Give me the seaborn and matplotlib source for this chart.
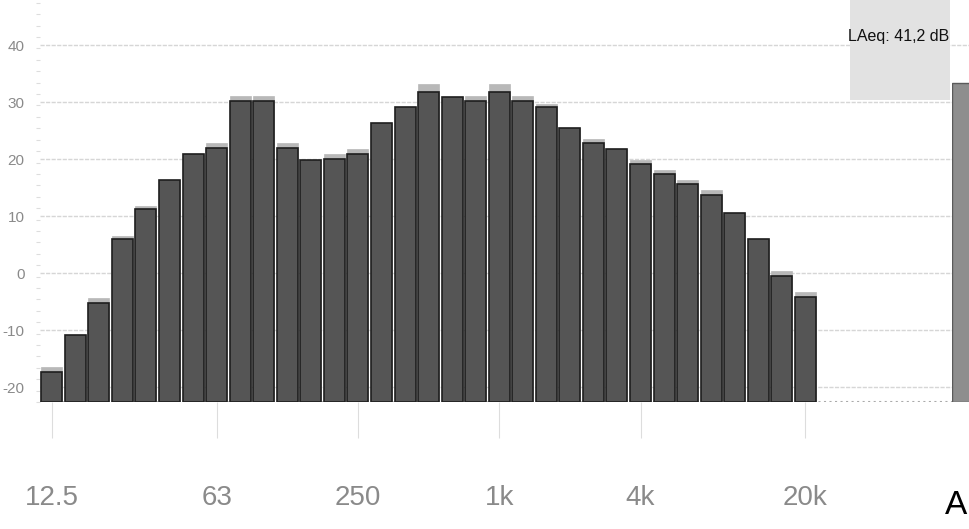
import matplotlib
matplotlib.use("Agg")
import matplotlib.pyplot as plt
from matplotlib.patches import Rectangle
from matplotlib.ticker import MultipleLocator, FixedLocator, FuncFormatter
import seaborn as sns
import pandas as pd

sns.set_theme(style="white")
plt.rcParams['font.family'] = ['Liberation Sans Narrow', 'Liberation Sans', 'DejaVu Sans']

# third-octave band levels (dB)
bands = ["12.5", "16", "20", "25", "31.5", "40", "50", "63", "80", "100",
         "125", "160", "200", "250", "315", "400", "500", "630", "800", "1k",
         "1.25k", "1.6k", "2k", "2.5k", "3.15k", "4k", "5k", "6.3k", "8k", "10k",
         "12.5k", "16k", "20k"]
level = [-17.4, -10.8, -5.2, 6.0, 11.2, 16.3, 20.9, 21.9, 30.2, 30.2,
         21.9, 19.9, 20.0, 20.9, 26.4, 29.1, 31.8, 30.9, 30.1, 31.8,
         30.1, 29.2, 25.5, 22.9, 21.8, 19.1, 17.3, 15.6, 13.7, 10.6,
         6.0, -0.5, -4.2]
peak = [-16.5, -10.8, -4.4, 6.5, 11.8, 16.3, 20.9, 22.8, 31.1, 31.1,
        22.8, 19.9, 20.9, 21.8, 26.4, 29.1, 33.2, 30.9, 31.0, 33.2,
        31.0, 29.6, 25.5, 23.6, 21.8, 19.9, 18.1, 16.4, 14.6, 10.6,
        6.0, 0.4, -3.3]
tick_bands = ["12.5", "63", "250", "1k", "4k", "20k"]
y_ticks = [-20, -10, 0, 10, 20, 30, 40]
total_label = "A"
total_level = 33.3
laeq_text = "LAeq: 41,2 dB"

FLOOR = -22.6   # level at the bottom of the plot
TOP = 47.9

df = pd.DataFrame({"band": bands, "level": level, "peak": peak})
df["h_level"] = df["level"] - FLOOR
df["h_peak"] = df["peak"] - FLOOR

W, H = 969, 529
fig = plt.figure(figsize=(W / 100, H / 100), dpi=100)
ax = fig.add_axes([40 / W, 127 / H, (1000 - 40) / W, 402 / H])

sns.barplot(data=df, x="band", y="h_peak", order=bands, color="#b8b8b8",
            width=0.89, edgecolor="#b8b8b8", linewidth=0.5, saturation=1, ax=ax)
sns.barplot(data=df, x="band", y="h_level", order=bands, color="#555555",
            width=0.89, edgecolor="#1e1e1e", linewidth=1.2, saturation=1, ax=ax)

ax.set_xlim(-0.5, (1000 - 40) / 23.55 - 0.5)
ax.set_ylim(0, TOP - FLOOR)
for s in ax.spines.values():
    s.set_visible(False)

ax.set_axisbelow(True)
ax.yaxis.set_major_locator(FixedLocator([t - FLOOR for t in y_ticks]))
ax.yaxis.set_major_formatter(FuncFormatter(lambda v, p: f"{v + FLOOR:.0f}"))
ax.yaxis.set_minor_locator(MultipleLocator(2))
ax.grid(axis="y", color="#d6d6d6", linestyle=(0, (3, 1)), linewidth=1.0)
ax.grid(axis="x", visible=False)
ax.axhline(0, color="#aaaaaa", linestyle=":", linewidth=1.5, zorder=0)

ax.set_xticks([bands.index(b) for b in tick_bands])
ax.set_xticklabels(tick_bands)
ax.tick_params(axis="x", bottom=True, length=26, width=0.8, color="#dddddd",
               pad=34, labelsize=20, labelcolor="#8a8a8a")
ax.tick_params(axis="y", which="major", left=False, pad=5, labelsize=11,
               labelcolor="#8a8a8a")
ax.tick_params(axis="y", which="minor", left=True, length=3, width=0.8,
               color="#dddddd")
ax.set_xlabel("")
ax.set_ylabel("")

# overall A-weighted bar at the right edge
ax2 = fig.add_axes([952 / W, 127 / H, 40 / W, 402 / H])
sns.barplot(x=[total_label], y=[total_level - FLOOR], color="#8e8e8e",
            width=0.9, edgecolor="#5a5a5a", linewidth=1, saturation=1, ax=ax2)
ax2.set_xlim(-0.45, 1.25)
ax2.set_ylim(0, TOP - FLOOR)
ax2.axis("off")
fig.text(967 / W, 1 - 505 / H, total_label, fontsize=24, color="black",
         ha="right", va="center")

# LAeq box
fig.add_artist(Rectangle((850 / W, 1 - 100 / H), 100 / W, 100 / H,
                         transform=fig.transFigure, facecolor="#e2e2e2",
                         edgecolor="none", zorder=5))
fig.text(899 / W, 1 - 36 / H, laeq_text, fontsize=11.5, color="#111111",
         ha="center", va="center", zorder=6)

fig.savefig("out.png", dpi=100)
